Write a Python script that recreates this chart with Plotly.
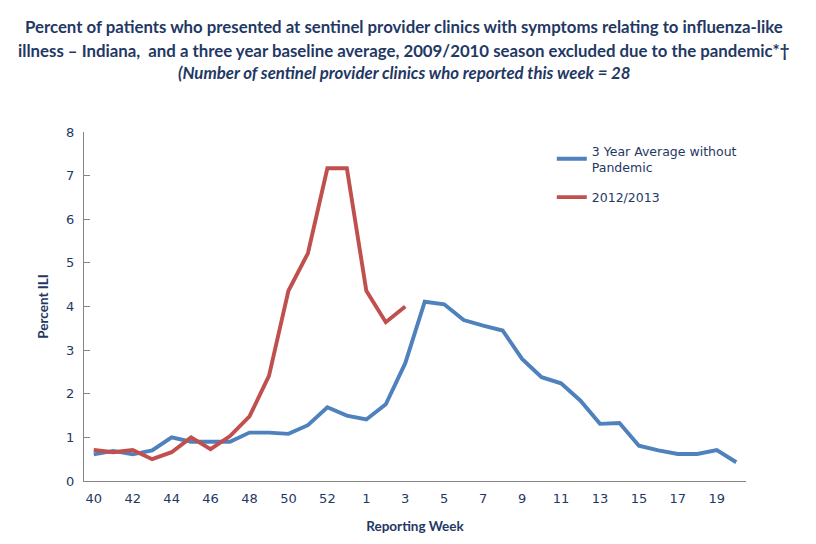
import plotly.graph_objects as go

weeks = [str(w) for w in list(range(40, 54)) + list(range(1, 21))]
tick_weeks = weeks[::2]

avg_3yr = [0.61, 0.69, 0.61, 0.70, 1.00, 0.90, 0.90, 0.90, 1.11, 1.11,
           1.08, 1.28, 1.69, 1.50, 1.41, 1.76, 2.70, 4.11, 4.05, 3.69,
           3.56, 3.45, 2.80, 2.38, 2.24, 1.84, 1.31, 1.33, 0.81, 0.70,
           0.62, 0.62, 0.71, 0.43]
season_2012 = [0.71, 0.66, 0.71, 0.50, 0.66, 1.00, 0.73, 1.03, 1.48, 2.41,
               4.36, 5.22, 7.17, 7.17, 4.36, 3.64, 4.00]

navy = "#1F3864"
font_fam = "Lato, 'DejaVu Sans', sans-serif"
tick_fam = "'DejaVu Sans', sans-serif"

# page offset of the figure inside the browser (default body margin)
OFF = 8
W, H = 816, 544
# plot area in page pixels
PL, PR, PT, PB = 83.5, 746.5, 132, 481
L, T = PL - OFF, PT - OFF
R = W - (PR - OFF)
B = H - (PB - OFF)
pw, ph = PR - PL, PB - PT

def px_x(x):
    return (x - PL) / pw

def px_y(y):
    return (PB - y) / ph

titles = [
    ("<b>Percent of patients who presented at sentinel provider clinics with symptoms relating to influenza-like</b>", 27),
    ("<b>illness \u2013 Indiana,  and a three year baseline average, 2009/2010 season excluded due to the pandemic*\u2020</b>", 50),
    ("<b><i>(Number of sentinel provider clinics who reported this week = 28</i></b>", 73),
]
annotations = []
for txt, yy in titles:
    annotations.append(dict(text=txt, x=px_x(404), y=px_y(yy), xref="paper", yref="paper",
                            xanchor="center", yanchor="middle", showarrow=False,
                            font=dict(family=font_fam, size=16.8, color=navy)))

fig = go.Figure()
fig.add_trace(go.Scatter(x=weeks, y=avg_3yr, mode="lines",
                         name="3 Year Average without<br>Pandemic", legendgroup="a",
                         line=dict(color="#4F81BD", width=3.9)))
fig.add_trace(go.Scatter(x=weeks[:len(season_2012)], y=season_2012, mode="lines",
                         name="2012/2013", legendgroup="b",
                         line=dict(color="#C0504D", width=3.9)))

fig.update_layout(
    width=W, height=H,
    margin=dict(l=L, r=R, t=T, b=B, pad=0),
    paper_bgcolor="white", plot_bgcolor="white",
    font=dict(family=font_fam, size=13, color=navy),
    showlegend=True,
    legend=dict(x=px_x(552), y=px_y(136), xanchor="left", yanchor="top",
                bgcolor="rgba(0,0,0,0)",
                font=dict(family=tick_fam, size=12.5, color=navy),
                tracegroupgap=11),
    annotations=annotations,
    xaxis=dict(type="category", categoryorder="array", categoryarray=weeks,
               tickvals=tick_weeks, ticktext=tick_weeks,
               range=[-0.5, len(weeks) - 0.5],
               showline=True, linecolor="#868686", linewidth=1.3,
               ticks="", showgrid=False, zeroline=False, ticklabelstandoff=5,
               tickfont=dict(family=tick_fam, size=13, color=navy),
               title=dict(text="<b>Reporting Week</b>", standoff=16,
                          font=dict(family=font_fam, size=13.5, color=navy))),
    yaxis=dict(range=[0, 8], dtick=1, tick0=0,
               showline=True, linecolor="#868686", linewidth=1.3,
               ticks="inside", ticklen=6, tickcolor="#868686",
               showgrid=False, zeroline=False, ticklabelstandoff=6,
               tickfont=dict(family=tick_fam, size=13, color=navy),
               title=dict(text="<b>Percent ILI</b>", standoff=14,
                          font=dict(family=font_fam, size=13.5, color=navy))),
)

fig.write_html("out.html")
